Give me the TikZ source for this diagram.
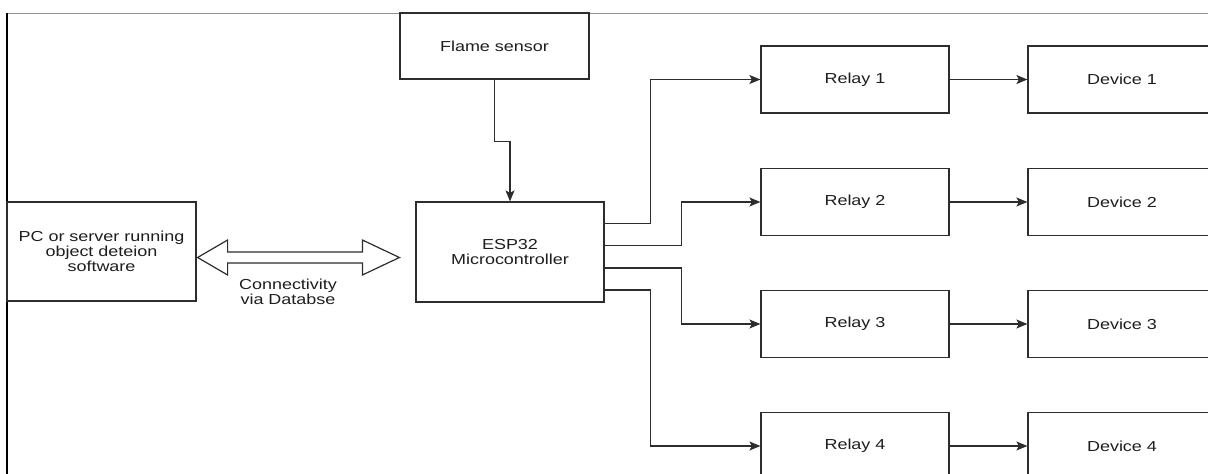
\documentclass[tikz,border=0pt]{standalone}
\usepackage{fontspec}
\setmainfont{Liberation Sans}[FakeStretch=1.24]
\usetikzlibrary{arrows.meta,calc}
\definecolor{ln}{RGB}{45,45,45}
\definecolor{txt}{RGB}{30,30,30}
\begin{document}
\begin{tikzpicture}[x=1pt,y=-1pt,
  box/.style={draw=ln, line width=1.2pt, fill=white, align=center, inner sep=0pt,
    text=txt, font=\fontsize{14.5}{15}\selectfont},
  arr/.style={draw=ln, line width=1.2pt, -{Stealth[length=11pt,width=9pt,inset=2.5pt]}},
  lbl/.style={align=center, text=txt, font=\fontsize{14.5}{14.5}\selectfont}]
\useasboundingbox (0,0) rectangle (1208,474);
\clip (0,0) rectangle (1208,474);
% frame lines
\draw[line width=1pt, color=gray!85] (7,13) -- (1208,13);
\draw[line width=1.3pt, color=black] (7,13) -- (7,474);
% nodes
\node[box, minimum width=189pt, minimum height=66pt] (flame) at (494.5,46) {Flame sensor};
\node[box, minimum width=188pt, minimum height=100pt] (esp) at (510,252) {ESP32\\Microcontroller};
\node[box, minimum width=189pt, minimum height=99pt] (pc) at (101.5,251.5) {PC or server running\\object deteion\\software};
\foreach \i/\y in {1/79.5, 2/202, 3/324, 4/446}{
  \node[box, minimum width=188pt, minimum height=67pt] (r\i) at (855,\y) {Relay \i};
  \node[box, minimum width=188pt, minimum height=67pt] (d\i) at (1122,\y) {Device \i};
  \draw[arr] (r\i.east) -- (d\i.west);
}
% flame to esp
\draw[arr] (flame.south) -- ++(0,62) -| (esp.north);
% esp to relays
\draw[arr] ($(esp.north east)+(0,22)$) -| ($(r1.west)+(-110,0)$) -- (r1.west);
\draw[arr] ($(esp.north east)+(0,44)$) -| ($(r2.west)+(-79,0)$) -- (r2.west);
\draw[arr] ($(esp.north east)+(0,66.5)$) -| ($(r3.west)+(-79,0)$) -- (r3.west);
\draw[arr] ($(esp.north east)+(0,88.5)$) -| ($(r4.west)+(-110,0)$) -- (r4.west);
% double outlined arrow
\coordinate (aL) at ($(pc.east)+(1,6)$);
\coordinate (aR) at ($(esp.west)+(-16,5.5)$);
\draw[draw=ln, fill=white, line width=1.2pt, line join=miter]
  (aL) -- ++(30,-17.5) -- ++(0,12) -- ($(aR)+(-37,-5.5)$) -- ++(0,-12) -- (aR)
  -- ++(-37,17.5) -- ++(0,-12) -- ($(aL)+(30,5.5)$) -- ++(0,12) -- cycle;
\node[lbl] (conn) at (288,292) {Connectivity\\via Databse};
\end{tikzpicture}
\end{document}
